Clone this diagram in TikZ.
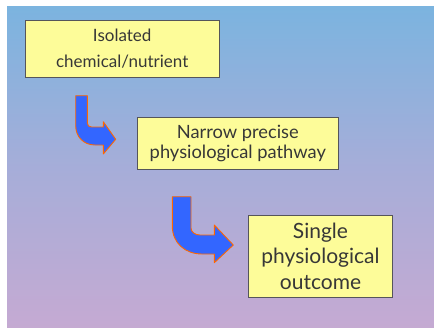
\documentclass[tikz,border=0pt]{standalone}
\usepackage{fontspec}
\setmainfont{Lato}
\begin{document}
\pgfdeclareverticalshading{skyfade}{100bp}{
  rgb(0bp)=(0.812,0.659,0.816);
  rgb(20bp)=(0.796,0.663,0.820);
  rgb(50bp)=(0.650,0.680,0.850);
  rgb(80bp)=(0.450,0.710,0.880);
  rgb(100bp)=(0.420,0.710,0.882)}
\begin{tikzpicture}[x=1pt,y=-1pt,
  box/.style={draw=boxline, line width=0.9pt, fill=boxfill, text=inkgray,
    align=center, inner sep=0pt, anchor=center},
  bentarrow/.style={draw=arrowedge, line width=0.9pt, fill=arrowblue, line join=round}]
  \definecolor{boxfill}{RGB}{253,252,153}
  \definecolor{boxline}{RGB}{85,85,90}
  \definecolor{inkgray}{RGB}{55,55,55}
  \definecolor{arrowblue}{RGB}{51,102,255}
  \definecolor{arrowedge}{RGB}{255,102,0}
  \useasboundingbox (0,0) rectangle (434,327);
  \fill[white] (0,0) rectangle (434,327);
  % slide background
  \shade[shading=skyfade] (7,6) rectangle (434,327);

  % boxes
  \node[box, minimum width=194.5pt, minimum height=57.2pt, font=\fontsize{17}{25.7}\selectfont]
    (iso) at (122.2,48.9) {Isolated\\chemical/nutrient};
  \node[box, minimum width=201pt, minimum height=52pt, font=\fontsize{18.3}{20}\selectfont]
    (path) at (237.8,143.7) {Narrow precise\\physiological pathway};
  \node[box, minimum width=144.4pt, minimum height=82.7pt, font=\fontsize{21}{25.5}\selectfont]
    (out) at (320.5,256.3) {Single\\physiological\\outcome};

  % bent block arrows
  \draw[bentarrow] (75.7,95.7) -- (87.3,95.7) -- (87.3,123)
    .. controls (87.3,125.5) and (89,127) .. (91.5,127)
    -- (103.3,127) -- (103.3,121.7) -- (115.7,139.3) -- (103.3,154)
    -- (103.3,145) -- (95,145)
    .. controls (84,145) and (75.7,137) .. (75.7,126) -- cycle;
  \draw[bentarrow] (172.3,196.7) -- (191,196.7) -- (191,228)
    .. controls (191,232) and (195,235) .. (200,235)
    -- (214.3,235) -- (214.3,225) -- (233.3,245) -- (214.3,262.7)
    -- (214.3,254) -- (202,254)
    .. controls (185,254) and (172.3,243) .. (172.3,226) -- cycle;
\end{tikzpicture}
\end{document}
